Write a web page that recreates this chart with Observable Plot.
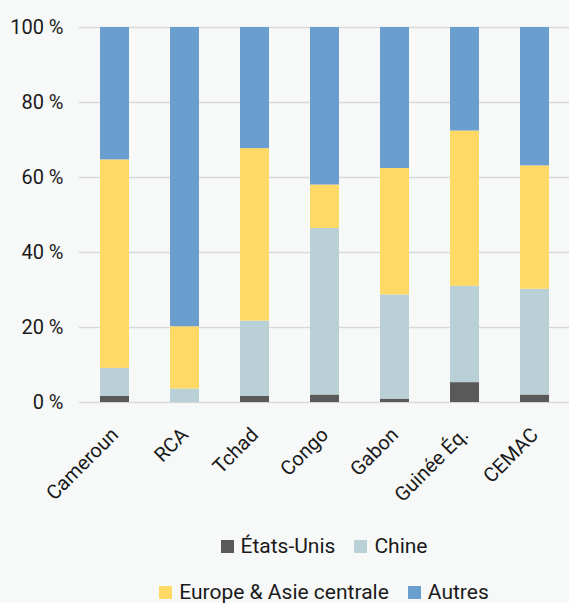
<!DOCTYPE html>
<html>
<head>
<meta charset="utf-8">
<script src="https://cdn.jsdelivr.net/npm/d3@7"></script>
<script src="https://cdn.jsdelivr.net/npm/@observablehq/plot@0.6"></script>
<style>
  html, body { margin: 0; padding: 0; background: #f7f9f9; }
  body { width: 569px; height: 603px; overflow: hidden; font-family: Roboto, "Noto Sans", sans-serif; color: #1a1a1a; }
  #chart svg { display: block; background: #f7f9f9; }
  .legend { display: flex; justify-content: center; align-items: center; font-size: 21px; gap: 19px; padding-left: 79px; line-height: 22px; height: 22px; }
  .legend .item { display: flex; align-items: center; gap: 7px; }
  .legend .sw { width: 13px; height: 13px; display: inline-block; }
</style>
</head>
<body>
<div id="chart"></div>
<div class="legend" id="leg1" style="margin-top:25px"></div>
<div class="legend" id="leg2" style="margin-top:24px"></div>
<script>
const categories = ["Cameroun", "RCA", "Tchad", "Congo", "Gabon", "Guinée Éq.", "CEMAC"];
const series = ["États-Unis", "Chine", "Europe & Asie centrale", "Autres"];
const colors = ["#595959", "#b9d1d6", "#ffd966", "#6a9ecf"];
const etatsUnis = [1.6, 0.0, 1.6, 2.0, 0.9, 5.3, 2.0];
const chine     = [7.5, 3.6, 20.1, 44.4, 27.8, 25.7, 28.2];
const europe    = [55.6, 16.6, 46.0, 11.6, 33.7, 41.4, 32.9];
const autres    = [35.3, 79.8, 32.3, 42.0, 37.6, 27.6, 36.9];
const yTicks = [0, 20, 40, 60, 80, 100];

const values = [etatsUnis, chine, europe, autres];
const data = [];
series.forEach((s, i) => categories.forEach((c, j) => data.push({pays: c, serie: s, valeur: values[i][j]})));

const plot = Plot.plot({
  width: 569,
  height: 510,
  marginTop: 27,
  marginLeft: 79,
  marginRight: 0,
  marginBottom: 108,
  style: {fontFamily: "Roboto, 'Noto Sans', sans-serif", fontSize: "20px", color: "#1a1a1a", background: "#f7f9f9"},
  x: {domain: categories, paddingInner: 0.59, paddingOuter: 0.295, label: null},
  y: {domain: [0, 100], label: null},
  color: {domain: series, range: colors},
  marks: [
    Plot.gridY(yTicks, {stroke: "#d9d9d9", strokeOpacity: 1, strokeWidth: 1.5}),
    Plot.barY(data, {x: "pays", y: "valeur", fill: "serie", order: series}),
    Plot.axisY({ticks: yTicks, tickSize: 0, tickPadding: 16, tickFormat: d => d + " %", label: null, fontSize: 20}),
    Plot.axisX({tickSize: 0, tickPadding: 29, tickRotate: -45, label: null, fontSize: 20})
  ]
});
document.getElementById("chart").appendChild(plot);

function legendRow(el, idx) {
  idx.forEach(i => {
    const item = document.createElement("span");
    item.className = "item";
    const sw = document.createElement("span");
    sw.className = "sw";
    sw.style.background = colors[i];
    const t = document.createElement("span");
    t.textContent = series[i];
    item.appendChild(sw); item.appendChild(t);
    el.appendChild(item);
  });
}
legendRow(document.getElementById("leg1"), [0, 1]);
legendRow(document.getElementById("leg2"), [2, 3]);
</script>
</body>
</html>
